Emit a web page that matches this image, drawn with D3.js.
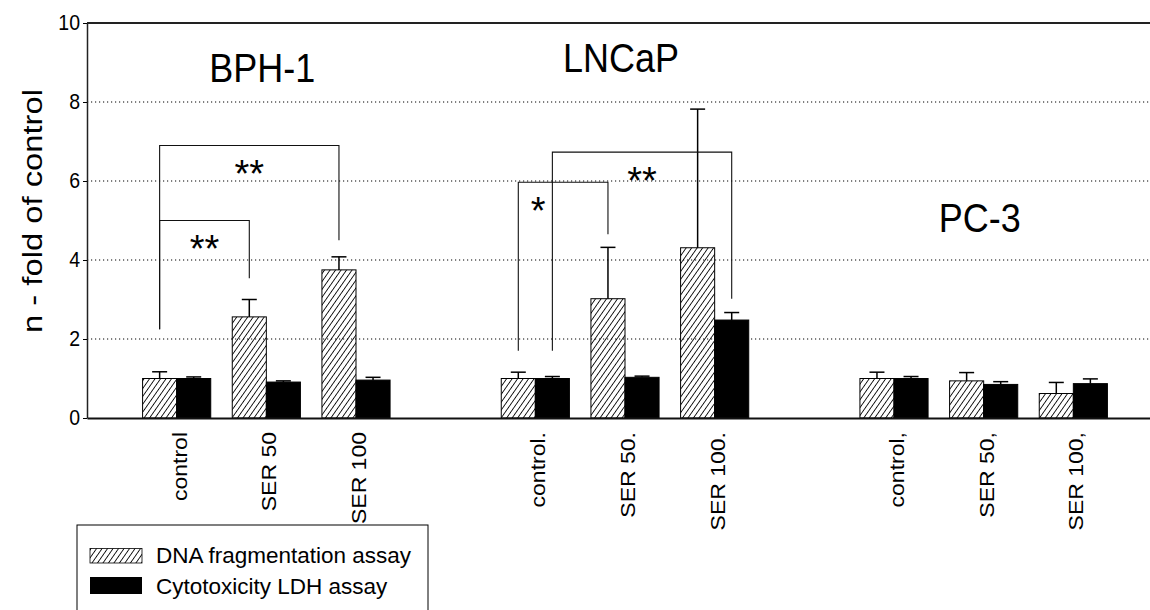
<!DOCTYPE html>
<html>
<head>
<meta charset="utf-8">
<script src="https://cdn.jsdelivr.net/npm/d3@7"></script>
<style>
body { margin: 0; background: #fff; }
text { font-family: "Liberation Sans", Arial, sans-serif; fill: #000; }
</style>
</head>
<body>
<div id="chart"></div>
<script>
var categories = ["control", "SER 50", "SER 100", "", "control.", "SER 50.", "SER 100.", "", "control,", "SER 50,", "SER 100,"];
var seriesNames = ["DNA fragmentation assay", "Cytotoxicity LDH assay"];

var dnaValues = [1.0, 2.56, 3.75, null, 1.0, 3.02, 4.31, null, 1.0, 0.94, 0.62];
var dnaErrors = [0.17, 0.44, 0.33, null, 0.16, 1.30, 3.51, null, 0.16, 0.21, 0.28];
var ldhValues = [1.0, 0.91, 0.96, null, 1.0, 1.03, 2.48, null, 1.0, 0.85, 0.87];
var ldhErrors = [0.04, 0.03, 0.07, null, 0.05, 0.03, 0.19, null, 0.05, 0.07, 0.12];

var groupNames = ["BPH-1", "LNCaP", "PC-3"];
var groupMiddle = [1, 5, 9];
var groupTitleAt = [8.5, 8.75, 4.7];

var yTicks = [0, 2, 4, 6, 8, 10];
var gridTicks = [2, 4, 6, 8];

// significance brackets: category index + series index at each end, values in y units
var brackets = [
    { from: 0, fromS: 0, to: 1, toS: 0, top: 5.0, fromBottom: 2.25, toBottom: 3.54, mark: "**", markAt: 0.5 },
    { from: 0, fromS: 0, to: 2, toS: 0, top: 6.9, fromBottom: 2.25, toBottom: 4.5, mark: "**", markAt: 0.5 },
    { from: 4, fromS: 0, to: 5, toS: 0, top: 5.97, fromBottom: 1.7, toBottom: 4.65, mark: "*", markAt: 0.22 },
    { from: 4, fromS: 1, to: 6, toS: 1, top: 6.73, fromBottom: 1.7, toBottom: 3.02, mark: "**", markAt: 0.5 }
];

var svgWidth = 1150;
var svgHeight = 610;
var stretch = 1.15;

var svg = d3.select("#chart")
    .append("svg")
    .attr("width", svgWidth)
    .attr("height", svgHeight);

var defs = svg.append("defs");
defs.append("pattern")
    .attr("id", "hatch")
    .attr("patternUnits", "userSpaceOnUse")
    .attr("width", 4.5)
    .attr("height", 10)
    .attr("patternTransform", "rotate(35)")
    .append("path")
    .attr("d", "M2.25,-1 V11")
    .attr("stroke", "#000")
    .attr("stroke-width", 0.9);

var x = d3.scaleBand()
    .domain(d3.range(categories.length))
    .range([87, 1163])
    .paddingInner(0.24)
    .paddingOuter(0.62);

var xs = d3.scaleBand()
    .domain([0, 1])
    .range([0, x.bandwidth()]);

var y = d3.scaleLinear()
    .domain([0, 10])
    .range([418, 23]);

function barCenter(i, s) {
    return x(i) + xs(s) + xs.bandwidth() / 2;
}

// grid
svg.append("g")
    .selectAll("line")
    .data(gridTicks)
    .enter()
    .append("line")
    .attr("x1", x.range()[0])
    .attr("x2", svgWidth)
    .attr("y1", d => y(d))
    .attr("y2", d => y(d))
    .attr("stroke", "#000")
    .attr("stroke-width", 1)
    .attr("stroke-dasharray", "1.2,2.8");

// top frame
svg.append("line")
    .attr("x1", x.range()[0])
    .attr("x2", svgWidth)
    .attr("y1", y(10))
    .attr("y2", y(10))
    .attr("stroke", "#222")
    .attr("stroke-width", 1.8);

// bars
var barData = [];
categories.forEach((c, i) => {
    if (dnaValues[i] != null) barData.push({ i: i, s: 0, v: dnaValues[i], e: dnaErrors[i] });
    if (ldhValues[i] != null) barData.push({ i: i, s: 1, v: ldhValues[i], e: ldhErrors[i] });
});

var bars = svg.append("g");

bars.selectAll("line.err")
    .data(barData)
    .enter()
    .append("line")
    .attr("class", "err")
    .attr("x1", d => barCenter(d.i, d.s))
    .attr("x2", d => barCenter(d.i, d.s))
    .attr("y1", d => y(d.v))
    .attr("y2", d => y(d.v + d.e))
    .attr("stroke", "#000")
    .attr("stroke-width", 1.5);

bars.selectAll("line.cap")
    .data(barData)
    .enter()
    .append("line")
    .attr("class", "cap")
    .attr("x1", d => barCenter(d.i, d.s) - 7.5)
    .attr("x2", d => barCenter(d.i, d.s) + 7.5)
    .attr("y1", d => y(d.v + d.e))
    .attr("y2", d => y(d.v + d.e))
    .attr("stroke", "#000")
    .attr("stroke-width", 1.5);

bars.selectAll("rect")
    .data(barData)
    .enter()
    .append("rect")
    .attr("x", d => x(d.i) + xs(d.s))
    .attr("y", d => y(d.v))
    .attr("width", xs.bandwidth())
    .attr("height", d => y(0) - y(d.v))
    .attr("fill", d => d.s == 0 ? "url(#hatch)" : "#000")
    .attr("stroke", "#000")
    .attr("stroke-width", 1);

// brackets
var bg = svg.append("g");
brackets.forEach(b => {
    var x1 = barCenter(b.from, b.fromS);
    var x2 = barCenter(b.to, b.toS);
    bg.append("path")
        .attr("d", `M${x1},${y(b.fromBottom)} V${y(b.top)} H${x2} V${y(b.toBottom)}`)
        .attr("fill", "none")
        .attr("stroke", "#111")
        .attr("stroke-width", 1.1);
    bg.append("text")
        .attr("transform", `translate(${x1 + (x2 - x1) * b.markAt}, ${y(b.top - 0.5) + 22})`)
        .attr("text-anchor", "middle")
        .style("font-size", "38px")
        .text(b.mark);
});

// axes
var leftAxis = d3.axisLeft(y)
    .tickValues(yTicks)
    .tickSize(4)
    .tickSizeOuter(0)
    .tickPadding(3);

var yAxisGroup = svg.append("g")
    .attr("transform", `translate(${x.range()[0]}, 0)`)
    .call(leftAxis);
yAxisGroup.select(".domain").attr("stroke", "#222").attr("stroke-width", 1.5);
yAxisGroup.selectAll("text")
    .style("font-size", "19.5px")
    .attr("font-family", null)
    .attr("transform", `scale(1, ${stretch})`)
    .attr("dy", "0.3em");

var bottomAxis = d3.axisBottom(x)
    .tickSize(0)
    .tickSizeOuter(0)
    .tickFormat(i => categories[i]);

var xAxisGroup = svg.append("g")
    .attr("transform", `translate(0, ${y(0)})`)
    .call(bottomAxis);
xAxisGroup.select(".domain").attr("stroke", "#111").attr("stroke-width", 2);
xAxisGroup.selectAll("text")
    .style("font-size", "20px")
    .attr("font-family", null)
    .attr("y", 0)
    .attr("x", 0)
    .attr("dy", "0.5em")
    .attr("text-anchor", "end")
    .attr("transform", `translate(0, 14) rotate(-90) scale(${stretch}, 1)`);

// y label
svg.append("text")
    .attr("transform", `translate(42, 211) rotate(-90) scale(${stretch}, 1)`)
    .attr("text-anchor", "middle")
    .style("font-size", "28.5px")
    .text("n - fold of control");

// cell line titles
groupNames.forEach((g, k) => {
    svg.append("text")
        .attr("transform", `translate(${x(groupMiddle[k]) + x.bandwidth() / 2 - 4}, ${y(groupTitleAt[k])}) scale(1, ${stretch})`)
        .attr("text-anchor", "middle")
        .style("font-size", "36px")
        .text(g);
});

// legend
var legend = svg.append("g");
legend.append("rect")
    .attr("x", 77)
    .attr("y", 525)
    .attr("width", 351)
    .attr("height", 120)
    .attr("fill", "#fff")
    .attr("stroke", "#000")
    .attr("stroke-width", 1);

seriesNames.forEach((name, s) => {
    legend.append("rect")
        .attr("x", 90)
        .attr("y", s == 0 ? 548.5 : 577)
        .attr("width", 52)
        .attr("height", s == 0 ? 14.5 : 17)
        .attr("fill", s == 0 ? "url(#hatch)" : "#000")
        .attr("stroke", "#000")
        .attr("stroke-width", s == 0 ? 0.8 : 0);
    legend.append("text")
        .attr("x", 156)
        .attr("y", s == 0 ? 563 : 594)
        .style("font-size", "22.5px")
        .text(name);
});
</script>
</body>
</html>
